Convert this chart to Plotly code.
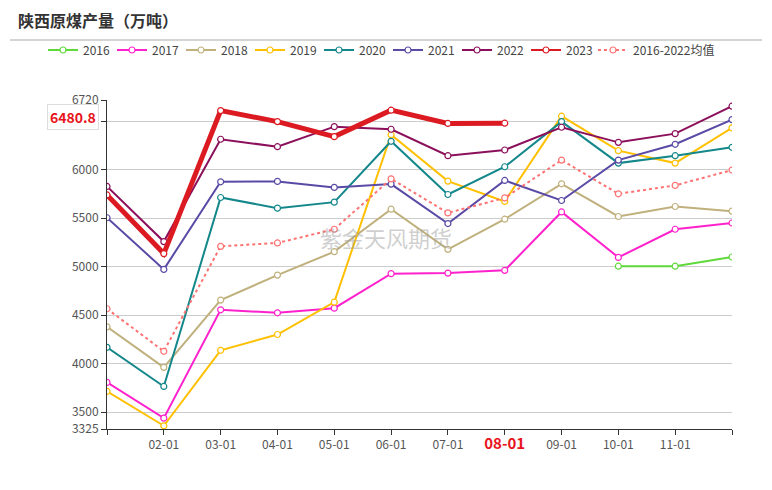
import plotly.graph_objects as go

months = ["01-01", "02-01", "03-01", "04-01", "05-01", "06-01",
          "07-01", "08-01", "09-01", "10-01", "11-01", "12-01"]

y2016 = [None, None, None, None, None, None, None, None, None, 5005, 5005, 5100]
y2017 = [3806, 3437, 4555, 4524, 4572, 4928, 4934, 4962, 5565, 5096, 5386, 5451]
y2018 = [4379, 3961, 4655, 4913, 5155, 5593, 5179, 5490, 5855, 5518, 5621, 5573]
y2019 = [3713, 3358, 4137, 4300, 4634, 6362, 5883, 5673, 6553, 6197, 6069, 6432]
y2020 = [4168, 3764, 5714, 5604, 5666, 6294, 5745, 6031, 6497, 6069, 6145, 6232]
y2021 = [5505, 4972, 5876, 5880, 5818, 5852, 5445, 5890, 5683, 6100, 6263, 6518]
y2022 = [5828, 5259, 6315, 6238, 6445, 6418, 6145, 6204, 6439, 6283, 6373, 6656]
y2023 = [5740, 5135, 6611, 6497, 6342, 6615, 6478, 6480.8, None, None, None, None]
yavg = [4566, 4127, 5210, 5245, 5386, 5907, 5555, 5710, 6100, 5752, 5839, 5997]

series = [
    ("2016", y2016, "#5fd83a", 2, "solid"),
    ("2017", y2017, "#ff22cc", 2, "solid"),
    ("2018", y2018, "#bfb07c", 2, "solid"),
    ("2019", y2019, "#ffc000", 2, "solid"),
    ("2020", y2020, "#13878a", 2, "solid"),
    ("2021", y2021, "#5a4aa6", 2, "solid"),
    ("2022", y2022, "#8b0f5a", 2, "solid"),
    ("2023", y2023, "#dc1a22", 5, "solid"),
    ("2016-2022均值", yavg, "#ff7272", 2, "dot"),
]

ytickvals = [3325, 3500, 4000, 4500, 5000, 5500, 6000, 6500, 6720]
yticktext = ["3325", "3500", "4000", "4500", "5000", "5500", "6000", "", "6720"]
xticktext = ["", "02-01", "03-01", "04-01", "05-01", "06-01", "07-01",
             "<b><span style='color:#e8141c;font-size:15px'>08-01</span></b>",
             "09-01", "10-01", "11-01", ""]

fig = go.Figure()
for i, (name, vals, color, width, dash) in enumerate(series):
    thick = width > 2
    leg = "legend2" if i == len(series) - 1 else "legend"
    fig.add_trace(go.Scatter(
        x=months, y=vals, name=name, mode="lines+markers",
        line=dict(color=color, width=width, dash=dash),
        marker=dict(symbol="circle", size=6, color="white",
                    line=dict(color=color, width=1.2)),
        connectgaps=False, showlegend=not thick, legend=leg,
        legendrank=100 + len(fig.data),
    ))
    if thick:
        # thin legend entry (the legend shows all series with the same thin line)
        fig.add_trace(go.Scatter(
            x=[None], y=[None], name=name, mode="lines+markers",
            line=dict(color=color, width=2),
            marker=dict(symbol="circle", size=6, color="white",
                        line=dict(color=color, width=1.2)),
            showlegend=True, legend=leg, legendrank=100 + len(fig.data) - 1,
        ))

legend_common = dict(orientation="h", xref="container", yref="container",
                     xanchor="left", y=1 - 50 / 490, yanchor="middle",
                     font=dict(size=12, color="#444"), itemwidth=30,
                     bgcolor="rgba(0,0,0,0)", traceorder="normal")

fig.update_layout(
    width=772, height=490,
    margin=dict(l=107, r=40, t=100, b=61, autoexpand=False),
    plot_bgcolor="white", paper_bgcolor="white",
    font=dict(family="Noto Sans CJK SC, Noto Sans, sans-serif", size=12, color="#555"),
    title=dict(text="<b>陕西原煤产量（万吨）</b>", xref="container", yref="container",
               x=18 / 772, xanchor="left", y=1 - 21 / 490, yanchor="middle",
               font=dict(family="Noto Sans CJK SC", size=16, color="#333")),
    legend=dict(x=43 / 772, entrywidth=24, entrywidthmode="pixels", **legend_common),
    legend2=dict(x=593 / 772, **legend_common),
    showlegend=True,
    hovermode="x",
)

fig.update_xaxes(
    type="category", range=[0, 11], tickvals=months, ticktext=xticktext,
    showgrid=False, showline=True, linecolor="#333", linewidth=1,
    ticks="outside", ticklen=5, tickcolor="#333",
    tickfont=dict(size=12, color="#555"), zeroline=False,
)
fig.update_yaxes(
    range=[3325, 6720], tickvals=ytickvals, ticktext=yticktext,
    showgrid=True, gridcolor="#cccccc", gridwidth=1,
    showline=True, linecolor="#333", linewidth=1,
    ticks="outside", ticklen=5, tickcolor="#333",
    tickfont=dict(size=12, color="#555"), zeroline=False,
)

# title separator line
fig.add_shape(type="line", xref="paper", yref="paper",
              x0=(10 - 107) / 625, x1=(762 - 107) / 625,
              y0=(429 - 40) / 329, y1=(429 - 40) / 329,
              line=dict(color="#aaaaaa", width=1))

# last value label
fig.add_annotation(xref="paper", yref="y", x=-0.013, y=y2023[7] + 60,
                   text="<b>%.1f</b>" % y2023[7], showarrow=False,
                   xanchor="right", yanchor="middle",
                   font=dict(size=14, color="#e8141c"),
                   bgcolor="white", bordercolor="#dddddd", borderwidth=1, borderpad=2)

# watermark
fig.add_annotation(xref="paper", yref="paper", x=(386 - 107) / 625, y=(429 - 237) / 329,
                   text="紫金天风期货", showarrow=False,
                   font=dict(size=22, color="rgba(160,160,160,0.5)"))

fig.write_html("out.html")
